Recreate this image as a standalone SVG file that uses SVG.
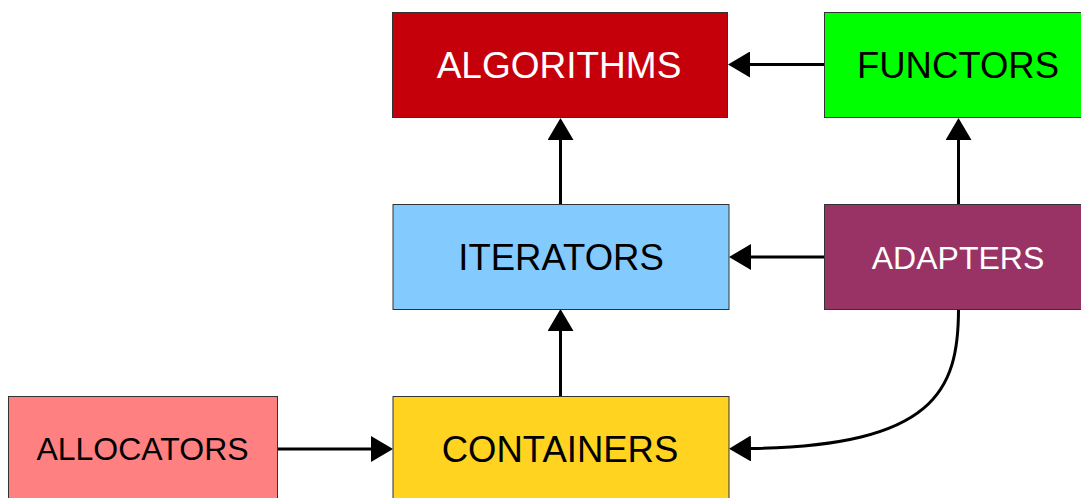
<svg xmlns="http://www.w3.org/2000/svg" width="1081" height="498" viewBox="0 0 1081 498">
<style>
.box{stroke:#333;stroke-width:1}
.lbl{font-family:"Liberation Sans",Arial,sans-serif;text-anchor:middle}
.big{font-size:36.5px}
.small{font-size:32px}
.conn{fill:none;stroke:#000;stroke-width:3}
</style>
<defs>
<marker id="ah" markerUnits="userSpaceOnUse" markerWidth="22" markerHeight="26" viewBox="0 0 22 26" refX="0" refY="13" orient="auto">
<path d="M0,0 L22,13 L0,26 z" fill="#000"/>
</marker>
</defs>
<rect width="1081" height="498" fill="#fff"/>
<g id="connectors">
<path class="conn" d="M824,64.5 H750" marker-end="url(#ah)"/>
<path class="conn" d="M560.5,204 V140" marker-end="url(#ah)"/>
<path class="conn" d="M824,257 H751" marker-end="url(#ah)"/>
<path class="conn" d="M958.5,204 V140" marker-end="url(#ah)"/>
<path class="conn" d="M560.5,396 V331" marker-end="url(#ah)"/>
<path class="conn" d="M278,449 H371" marker-end="url(#ah)"/>
<path class="conn" d="M958.5,309 C958.5,390 935,446 751,448.5" marker-end="url(#ah)"/>
</g>
<g id="algorithms">
<rect class="box" x="392.5" y="12.5" width="335" height="105" fill="#c5000b"/>
<text class="lbl" x="559" y="78" fill="#fff" font-size="37">ALGORITHMS</text>
</g>
<g id="functors">
<rect class="box" x="824.5" y="12.5" width="260" height="105" fill="#00ff00"/>
<text class="lbl big" x="958" y="77.5" fill="#000">FUNCTORS</text>
</g>
<g id="iterators">
<rect class="box" x="393" y="204.5" width="336" height="105" fill="#83caff"/>
<text class="lbl big" x="561" y="270" fill="#000">ITERATORS</text>
</g>
<g id="adapters">
<rect class="box" x="824.5" y="204.5" width="260" height="105" fill="#993366"/>
<text class="lbl small" x="958" y="268.5" fill="#fff">ADAPTERS</text>
</g>
<g id="allocators">
<rect class="box" x="8.5" y="396.5" width="269" height="110" fill="#ff8080"/>
<text class="lbl small" x="142.5" y="460" fill="#000">ALLOCATORS</text>
</g>
<g id="containers">
<rect class="box" x="393" y="396.5" width="336" height="110" fill="#ffd320"/>
<text class="lbl big" x="560" y="461.5" fill="#000">CONTAINERS</text>
</g>
</svg>
